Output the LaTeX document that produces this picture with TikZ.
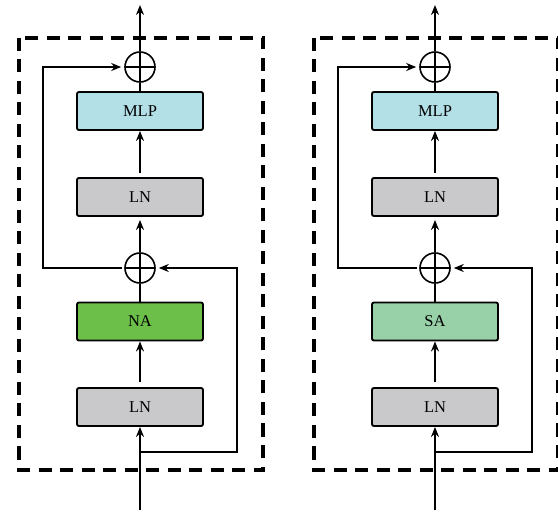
\documentclass[tikz,border=0pt]{standalone}
\usepackage{fontspec}
\setmainfont{Liberation Serif}
\usetikzlibrary{arrows.meta}

\definecolor{lngray}{HTML}{C9C9CB}
\definecolor{mlpcyan}{HTML}{B3E0E6}
\definecolor{nagreen}{HTML}{6CC04A}
\definecolor{sagreen}{HTML}{98D0A8}

\tikzset{
  blk/.style={draw, line width=1.9pt, rounded corners=2pt,
    minimum width=126pt, minimum height=38pt, inner sep=0pt,
    font=\fontsize{16.5}{16.5}\selectfont},
  adder/.style={circle, draw, line width=1.6pt, minimum size=30pt, inner sep=0pt,
    path picture={\draw[line width=1.6pt]
      (path picture bounding box.north) -- (path picture bounding box.south)
      (path picture bounding box.west) -- (path picture bounding box.east);}},
  conn/.style={line width=1.7pt},
  arr/.style={conn, -{Stealth[length=10pt,width=8pt]}},
  frame/.style={line width=3.2pt, dash pattern=on 13pt off 8.5pt}
}

% One transformer block: #1 horizontal offset, #2 name prefix,
% #3 attention label, #4 attention fill colour
\newcommand\encblock[4]{%
\begin{scope}[xshift=#1pt]
  \draw[frame] (19,38) rectangle (263,470);
  \node[blk, fill=lngray] (#2lnA) at (140,407) {LN};
  \node[blk, fill=#4] (#2att) at (140,321.5) {#3};
  \node[adder] (#2addA) at (140,268) {};
  \node[blk, fill=lngray] (#2lnB) at (140,197) {LN};
  \node[blk, fill=mlpcyan] (#2mlp) at (140,111) {MLP};
  \node[adder] (#2addB) at (140,67) {};
  \coordinate (#2in) at (140,510);
  \coordinate (#2out) at (140,5);
  \coordinate (#2split) at (140,452);
  \coordinate (#2rr) at (237,268);
  \coordinate (#2lt) at (43,67);
  % main path
  \draw[arr] (#2in) -- (#2lnA);
  \draw[arr, shorten <=5pt] (#2lnA) -- (#2att);
  \draw[conn] (#2att) -- (#2addA);
  \draw[arr, shorten >=3pt] (#2addA) -- (#2lnB);
  \draw[arr, shorten <=4pt] (#2lnB) -- (#2mlp);
  \draw[conn] (#2mlp) -- (#2addB);
  \draw[arr] (#2addB.north) -- (#2out);
  % residual connections
  \draw[arr, shorten >=3pt] (#2split) -| (#2rr) -- (#2addA.east);
  \draw[arr, shorten <=2pt, shorten >=3pt] (#2addA.west) -| (#2lt) -- (#2addB.west);
\end{scope}}

\begin{document}
\begin{tikzpicture}[x=1pt, y=-1pt]
  \useasboundingbox (0,0) rectangle (558,516);
  \encblock{0}{n}{NA}{nagreen}
  \encblock{295}{s}{SA}{sagreen}
\end{tikzpicture}
\end{document}
